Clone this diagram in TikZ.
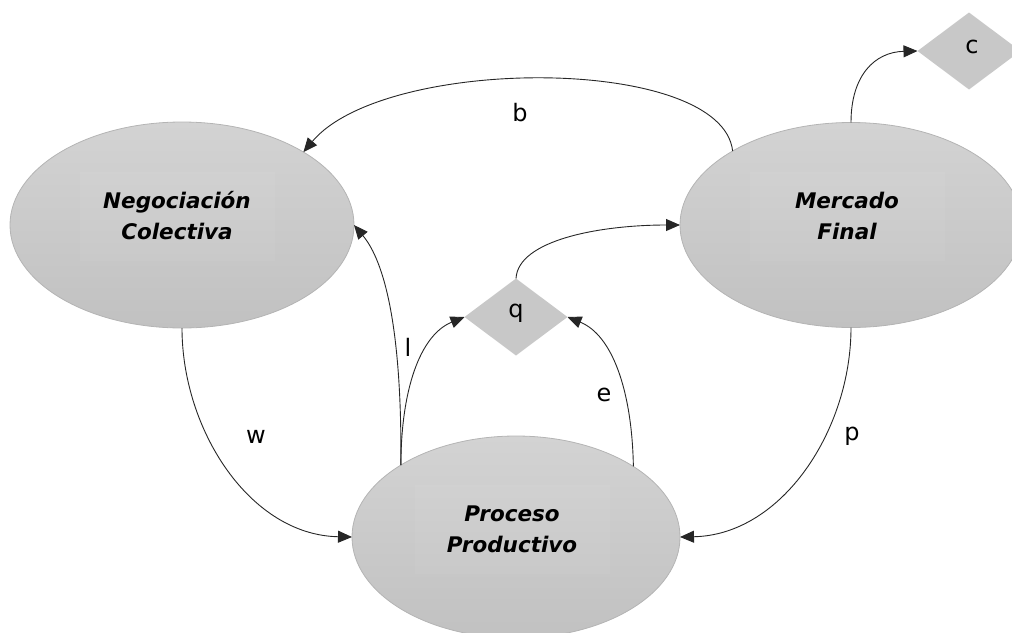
\documentclass[tikz,border=0pt]{standalone}
\usepackage{fontspec}
\setmainfont{DejaVu Sans}
\usetikzlibrary{arrows.meta,shapes.geometric}
\definecolor{edgecol}{HTML}{262626}
\definecolor{ellline}{HTML}{B4B4B4}
\definecolor{elltop}{HTML}{D3D3D3}
\definecolor{ellbot}{HTML}{C1C1C1}
\definecolor{diafill}{HTML}{C8C8C8}
\tikzset{
  ell/.style={ellipse,draw=ellline,line width=0.8pt,top color=elltop,bottom color=ellbot,inner sep=0pt,outer sep=0pt},
  txtbox/.style={fill=white,fill opacity=0.05,text opacity=1,minimum width=195pt,minimum height=89pt,inner sep=0pt,align=center,font=\fontsize{21.5}{31}\selectfont\bfseries\itshape},
  dia/.style={diamond,fill=diafill,inner sep=0pt,outer sep=0pt,aspect=1.33},
  conn/.style={draw=edgecol,line width=0.9pt,-{Triangle[length=14pt,width=12pt]}},
  lbl/.style={font=\fontsize{24}{28}\selectfont,inner sep=0pt}
}
\begin{document}
\begin{tikzpicture}[x=1pt,y=-1pt]
\useasboundingbox (0,0) rectangle (1012,632);
\clip (0,0) rectangle (1012,632);
% ellipses
\node[ell,minimum width=344pt,minimum height=206pt] (neg) at (182,225) {};
\node[ell,minimum width=342pt,minimum height=205pt] (mer) at (851,225) {};
\node[ell,minimum width=328pt,minimum height=202pt] (pro) at (516,537) {};
% text boxes
\node[txtbox] (negt) at (177,216) {Negociación\\Colectiva};
\node[txtbox] (mert) at (847,216) {Mercado\\Final};
\node[txtbox] (prot) at (512,529) {Proceso\\Productivo};
% diamonds
\node[dia,minimum width=103pt,minimum height=77pt] (q) at (516,317) {};
\node[dia,minimum width=103pt,minimum height=77pt] (c) at (969,51) {};
\node[lbl] (qt) at (516,313) {q};
\node[lbl] (ct) at (972,47) {c};
% connectors
\draw[conn] (mer.148.7) .. controls (722,55) and (385,55) .. (neg.31.3);
\draw[conn] (mer.90) .. controls (851,75) and (875,52) .. (c.west);
\draw[conn] (q.north) .. controls (518,240) and (600,225) .. (mer.west);
\draw[conn] (pro.148) .. controls (402,330) and (385,262) .. (neg.east);
\draw[conn] (pro.148) .. controls (401,390) and (420,335) .. (q.west);
\draw[conn] (pro.31.6) .. controls (632,390) and (612,335) .. (q.east);
\draw[conn] (neg.south) .. controls (182,430) and (250,535) .. (pro.west);
\draw[conn] (mer.south) .. controls (851,430) and (782,535) .. (pro.east);
% labels
\node[lbl] (bl) at (520,113) {b};
\node[lbl] (ll) at (408,347) {l};
\node[lbl] (el) at (604,395) {e};
\node[lbl] (wl) at (256,437) {w};
\node[lbl] (pl) at (852,436) {p};
\end{tikzpicture}
\end{document}
